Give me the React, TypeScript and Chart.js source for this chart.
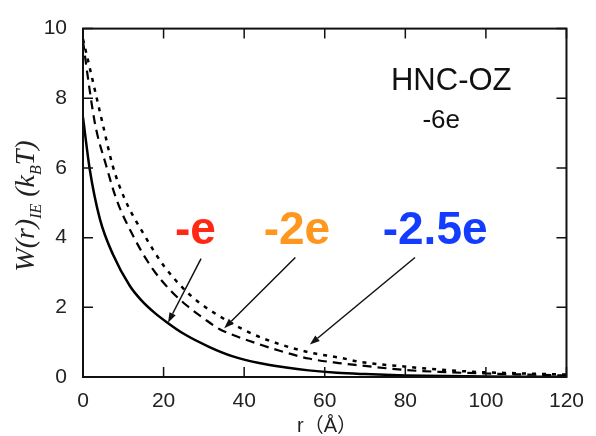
import React, { useEffect, useRef } from "react";
import { Chart, registerables } from "chart.js";

Chart.register(...registerables);

// -e (solid)
const solidR = [0, 1.7, 4.2, 7.5, 11.6, 14.5, 17.5, 20.7, 25, 31.4, 37, 43.7, 50, 56, 63, 70, 80, 90, 100, 110, 120];
const solidW = [7.45, 5.94, 4.53, 3.5, 2.62, 2.2, 1.87, 1.58, 1.24, 0.86, 0.6, 0.4, 0.28, 0.19, 0.12, 0.083, 0.046, 0.026, 0.014, 0.008, 0.005];

// -2e (dashed)
const dashR = [0, 0.9, 3, 5.8, 8.3, 12.4, 17, 21.9, 26, 30, 33.8, 39.2, 44, 48.6, 56, 63.5, 69, 80, 90, 100, 110, 120];
const dashW = [9.65, 8.86, 7.26, 6.05, 5.1, 4.06, 3.15, 2.46, 2.03, 1.68, 1.38, 1.12, 0.93, 0.76, 0.53, 0.4, 0.33, 0.2, 0.14, 0.1, 0.07, 0.045];

// -2.5e (dotted)
const dotR = [0, 1.7, 4.9, 7.4, 10.4, 15.3, 20, 25.6, 28.9, 33.8, 42, 48.6, 56, 63.5, 69, 80.7, 90, 97, 110, 120];
const dotW = [9.7, 8.86, 7.26, 6.05, 5.1, 4.06, 3.2, 2.46, 2.13, 1.75, 1.24, 0.95, 0.71, 0.56, 0.43, 0.29, 0.2, 0.15, 0.1, 0.07];

const xTicks = [0, 20, 40, 60, 80, 100, 120];
const yTicks = [0, 2, 4, 6, 8, 10];

const labels = [
  { text: "-e", x: 27.9, y: 3.81, color: "rgb(255,40,20)" },
  { text: "-2e", x: 53.1, y: 3.81, color: "rgb(255,150,30)" },
  { text: "-2.5e", x: 87.4, y: 3.81, color: "rgb(20,60,255)" },
];
const arrows = [
  { x0: 29.3, y0: 3.4, x1: 21.1, y1: 1.56 },
  { x0: 52.7, y0: 3.43, x1: 35.05, y1: 1.4 },
  { x0: 82.4, y0: 3.43, x1: 56.3, y1: 0.93 },
];

const SANS = "'Liberation Sans', Arial, 'Noto Sans CJK JP', sans-serif";
const SERIF = "'Liberation Serif', 'Times New Roman', serif";

const toPts = (r: number[], w: number[]) => r.map((x, i) => ({ x, y: w[i] }));

const decor = {
  id: "decor",
  afterDatasetsDraw(chart: any) {
    const { ctx, chartArea: a, scales } = chart;
    const xs = scales.x, ys = scales.y;
    ctx.save();
    // box
    ctx.strokeStyle = "#111";
    ctx.lineWidth = 2;
    ctx.strokeRect(a.left, a.top, a.right - a.left, a.bottom - a.top);
    // ticks inward
    ctx.lineWidth = 1.5;
    ctx.beginPath();
    yTicks.forEach((v) => {
      const p = ys.getPixelForValue(v);
      ctx.moveTo(a.left, p); ctx.lineTo(a.left + 10, p);
      ctx.moveTo(a.right, p); ctx.lineTo(a.right - 10, p);
    });
    xTicks.forEach((v) => {
      const p = xs.getPixelForValue(v);
      ctx.moveTo(p, a.bottom); ctx.lineTo(p, a.bottom - 10);
      ctx.moveTo(p, a.top); ctx.lineTo(p, a.top + 10);
    });
    ctx.stroke();

    // colored labels
    ctx.font = `bold 46px ${SANS}`;
    ctx.textAlign = "center";
    ctx.textBaseline = "alphabetic";
    labels.forEach((l) => {
      ctx.fillStyle = l.color;
      ctx.fillText(l.text, xs.getPixelForValue(l.x), ys.getPixelForValue(l.y));
    });

    // arrows
    ctx.strokeStyle = "#111";
    ctx.fillStyle = "#111";
    ctx.lineWidth = 1.5;
    arrows.forEach((ar) => {
      const x0 = xs.getPixelForValue(ar.x0), y0 = ys.getPixelForValue(ar.y0);
      const x1 = xs.getPixelForValue(ar.x1), y1 = ys.getPixelForValue(ar.y1);
      const ang = Math.atan2(y1 - y0, x1 - x0);
      const hl = 10, hw = 3.5;
      const bx = x1 - hl * Math.cos(ang), by = y1 - hl * Math.sin(ang);
      ctx.beginPath();
      ctx.moveTo(x0, y0); ctx.lineTo(bx, by);
      ctx.stroke();
      ctx.beginPath();
      ctx.moveTo(x1, y1);
      ctx.lineTo(bx + hw * Math.sin(ang), by - hw * Math.cos(ang));
      ctx.lineTo(bx - hw * Math.sin(ang), by + hw * Math.cos(ang));
      ctx.closePath();
      ctx.fill();
    });

    // title texts
    ctx.fillStyle = "#111";
    ctx.font = `31px ${SANS}`;
    ctx.fillText("HNC-OZ", xs.getPixelForValue(91.4), ys.getPixelForValue(8.25));
    ctx.font = `26px ${SANS}`;
    ctx.fillText("-6e", xs.getPixelForValue(88.9), ys.getPixelForValue(7.15));

    // x title
    ctx.fillStyle = "#222";
    ctx.font = `20px ${SANS}`;
    ctx.fillText("r（Å）", 327, 432);

    // y title (rotated, with subscripts)
    const big = `italic 28px ${SERIF}`;
    const small = `italic 16px ${SERIF}`;
    const pieces = [
      { t: "W(r)", f: big, dy: 0 },
      { t: "IE", f: small, dy: 7 },
      { t: " (k", f: big, dy: 0 },
      { t: "B", f: small, dy: 7 },
      { t: "T)", f: big, dy: 0 },
    ];
    let total = 0;
    const widths = pieces.map((p) => { ctx.font = p.f; const w = ctx.measureText(p.t).width; total += w; return w; });
    ctx.translate(34, 206);
    ctx.rotate(-Math.PI / 2);
    ctx.textAlign = "left";
    let cx = -total / 2;
    pieces.forEach((p, i) => {
      ctx.font = p.f;
      ctx.fillText(p.t, cx, p.dy);
      cx += widths[i];
    });
    ctx.restore();
  },
};

export default function App() {
  const ref = useRef<HTMLCanvasElement>(null);
  useEffect(() => {
    if (!ref.current) return;
    const chart = new Chart(ref.current, {
      type: "scatter",
      data: {
        datasets: [
          { data: toPts(solidR, solidW), showLine: true, borderColor: "#000", borderWidth: 2.5, pointRadius: 0, cubicInterpolationMode: "monotone" } as any,
          { data: toPts(dashR, dashW), showLine: true, borderColor: "#000", borderWidth: 2.2, borderDash: [9, 6], pointRadius: 0, cubicInterpolationMode: "monotone" } as any,
          { data: toPts(dotR, dotW), showLine: true, borderColor: "#000", borderWidth: 2.5, borderDash: [4, 6], pointRadius: 0, cubicInterpolationMode: "monotone" } as any,
        ],
      },
      options: {
        responsive: false,
        animation: false,
        layout: { padding: { top: 23, right: 27, left: 0, bottom: 0 } },
        plugins: { legend: { display: false }, tooltip: { enabled: false } },
        scales: {
          x: {
            type: "linear", min: 0, max: 120,
            grid: { display: false, drawTicks: false },
            border: { display: false },
            ticks: { stepSize: 20, padding: 12, color: "#222", font: { size: 21, family: SANS } },
            afterFit: (s: any) => { s.height = 59; },
          },
          y: {
            type: "linear", min: 0, max: 10,
            grid: { display: false, drawTicks: false },
            border: { display: false },
            ticks: { stepSize: 2, padding: 16, color: "#222", font: { size: 21, family: SANS } },
            afterFit: (s: any) => { s.width = 83; },
          },
        },
      },
      plugins: [decor],
    });
    return () => chart.destroy();
  }, []);
  return (
    <div style={{ position: "absolute", left: 0, top: 0, width: 596, height: 436, background: "#fff" }}>
      <canvas ref={ref} width={596} height={436} />
    </div>
  );
}
